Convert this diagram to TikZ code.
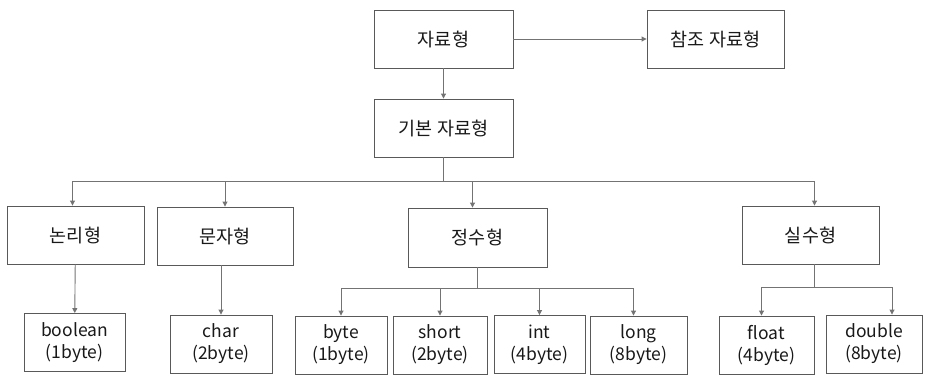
\documentclass[tikz,border=0pt]{standalone}
\usepackage{fontspec}
\setmainfont{Noto Sans CJK KR}
\usepackage{tikz}
\usetikzlibrary{positioning, arrows.meta}

\begin{document}
\begin{tikzpicture}[
        x=1pt, y=-1pt,
        box/.style={rectangle, draw=black!65, fill=white, line width=0.9pt, minimum width=137pt, minimum height=58pt, inner sep=0pt, font=\fontsize{18.5}{21}\selectfont, text=black!90},
        leaf/.style={box, align=center, font=\fontsize{17.5}{22}\selectfont},
        line/.style={draw=black!55, line width=0.9pt},
        arrow/.style={line, -{Triangle[width=5pt, length=5pt]}}
    ]
        \useasboundingbox (0,0) rectangle (933,381);

        % Nodes
        \node[box, minimum width=139pt] (data) at (443.5,39) {자료형};
        \node[box] (ref) at (715.5,39) {참조 자료형};
        \node[box, minimum width=139pt] (basic) at (443.5,128) {기본 자료형};

        \node[box] (logic) at (75.5,235) {논리형};
        \node[box, minimum width=136pt] (text) at (225,236) {문자형};
        \node[box, minimum width=139pt, minimum height=59pt] (integer) at (477.5,237.5) {정수형};
        \node[box] (real) at (810.5,235) {실수형};

        \node[leaf, minimum width=101pt] (boolean) at (74.5,342.5) {boolean\\(1byte)};
        \node[leaf, minimum width=102pt] (char) at (221,344) {char\\(2byte)};
        \node[leaf, minimum width=92pt] (byte) at (341,345) {byte\\(1byte)};
        \node[leaf, minimum width=94pt] (short) at (440,345) {short\\(2byte)};
        \node[leaf, minimum width=91pt] (int) at (539.5,344.5) {int\\(4byte)};
        \node[leaf, minimum width=97pt] (long) at (638.5,345) {long\\(8byte)};
        \node[leaf, minimum width=95pt] (float) at (766.5,345) {float\\(4byte)};
        \node[leaf, minimum width=96pt] (double) at (874,344) {double\\(8byte)};

        % Top level
        \draw[arrow] (data) -- (ref);
        \draw[arrow] (data) -- (basic);

        % Basic types
        \draw[line] (basic.south) -- ++(0,24) coordinate (bus);
        \draw[arrow] (bus) -| ([xshift=-3pt]logic.north);
        \draw[arrow] (bus) -| (text.north);
        \draw[arrow] (bus) -| ([xshift=-5pt]integer.north);
        \draw[arrow] (bus) -| ([xshift=4pt]real.north);

        % Leaves
        \draw[arrow] (logic) -- (boolean);
        \draw[arrow] (text.south -| char.north) -- (char);

        \draw[line] (integer.south) -- ++(0,21) coordinate (ibus);
        \draw[arrow] (ibus) -| (byte.north);
        \draw[arrow] (ibus) -| (short.north);
        \draw[arrow] (ibus) -| (int.north);
        \draw[arrow] (ibus) -| ([xshift=-5pt]long.north);

        \draw[line] ([xshift=4pt]real.south) -- ++(0,23) coordinate (rbus);
        \draw[arrow] (rbus) -| ([xshift=-5pt]float.north);
        \draw[arrow] (rbus) -| ([xshift=18pt]double.north);
    \end{tikzpicture}
\end{document}
